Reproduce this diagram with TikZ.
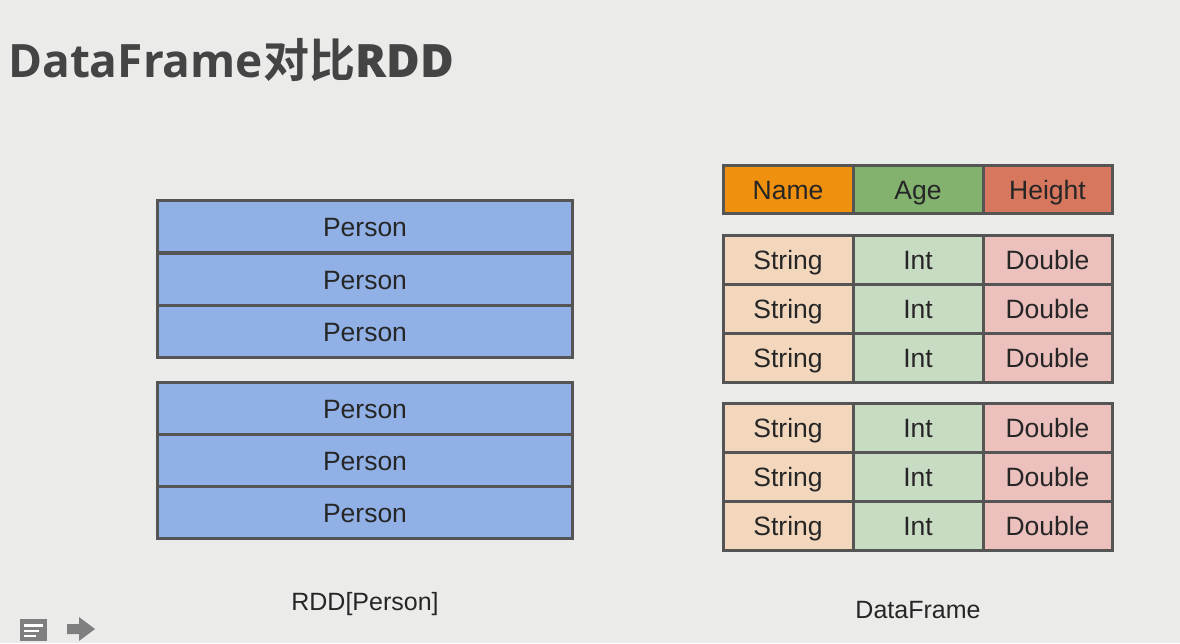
\documentclass[tikz,border=0pt]{standalone}
\usepackage{fontspec}
\setmainfont{Liberation Sans}
\newfontfamily\cjkbold[BoldFont={* Bold}]{Noto Sans CJK SC}
\newfontfamily\titlefont{Open Sans Bold}
\definecolor{bg}{HTML}{EBEBEA}
\definecolor{bordc}{HTML}{555555}
\definecolor{txt}{HTML}{262626}
\definecolor{rddblue}{HTML}{91B1E6}
\definecolor{hname}{HTML}{F0900F}
\definecolor{hage}{HTML}{83B26F}
\definecolor{hheight}{HTML}{D7775E}
\definecolor{cstr}{HTML}{F2D7BD}
\definecolor{cint}{HTML}{C8DBC3}
\definecolor{cdbl}{HTML}{EBC0BD}
\definecolor{titlec}{HTML}{444444}
\definecolor{iconc}{HTML}{7F7F7F}
\begin{document}
\begin{tikzpicture}[x=1pt,y=-1pt,
  cell/.style={draw=bordc,line width=3pt,inner sep=0pt,outer sep=0pt,text=txt,
    font=\fontsize{26.5}{30}\selectfont,text height=20pt,text depth=0pt},
  rddcell/.style={cell,fill=rddblue,minimum width=415pt,minimum height=52pt},
  dfcell/.style={cell,minimum width=130pt,minimum height=49pt},
  caption/.style={text=txt,font=\fontsize{25}{28}\selectfont,inner sep=0pt,text height=18pt,text depth=0pt}]
\fill[bg] (0,0) rectangle (1180,643);
\useasboundingbox (0,0) rectangle (1180,643);
% title
\node[anchor=base west,inner sep=0pt,text=titlec] (title) at (8,77)
  {\fontsize{46}{50}\selectfont\titlefont DataFrame\cjkbold\bfseries 对比\titlefont RDD};
% RDD groups
\foreach \i/\y in {1/226,2/279,3/331,4/408,5/460,6/512}{
  \node[rddcell] (p\i) at (365,\y) {Person};
}
\draw[bordc,line width=3pt] (p1.north west) rectangle (p3.south east);
\draw[bordc,line width=3pt] (p4.north west) rectangle (p6.south east);
\node[caption] (rddlabel) at (365,601) {RDD[Person]};
% DataFrame header
\node[dfcell,fill=hname,minimum height=48pt] (hn) at (788,189) {Name};
\node[dfcell,fill=hage,minimum height=48pt] (ha) at (918,189) {Age};
\node[dfcell,fill=hheight,minimum height=48pt,minimum width=129pt] (hh) at (1047.5,189) {Height};
\draw[bordc,line width=3pt] (hn.north west) rectangle (hh.south east);
% DataFrame rows
\foreach \i/\y in {1/259.5,2/308.5,3/357.5,4/427.5,5/476.5,6/525.5}{
  \node[dfcell,fill=cstr] (s\i) at (788,\y) {String};
  \node[dfcell,fill=cint] (n\i) at (918,\y) {Int};
  \node[dfcell,fill=cdbl,minimum width=129pt] (d\i) at (1047.5,\y) {Double};
}
\draw[bordc,line width=3pt] (s1.north west) rectangle (d3.south east);
\draw[bordc,line width=3pt] (s4.north west) rectangle (d6.south east);
\node[caption] (dflabel) at (918,609) {DataFrame};
% player icons
\fill[iconc] (20,619) rectangle (47,641);
\fill[white] (24,624) rectangle (43,627);
\fill[white] (24,630) rectangle (39,632);
\fill[white] (24,635) rectangle (36,637);
\fill[iconc] (67,624) -- (79,624) -- (79,617) -- (95,629) -- (79,641) -- (79,634) -- (67,634) -- cycle;
\end{tikzpicture}
\end{document}
